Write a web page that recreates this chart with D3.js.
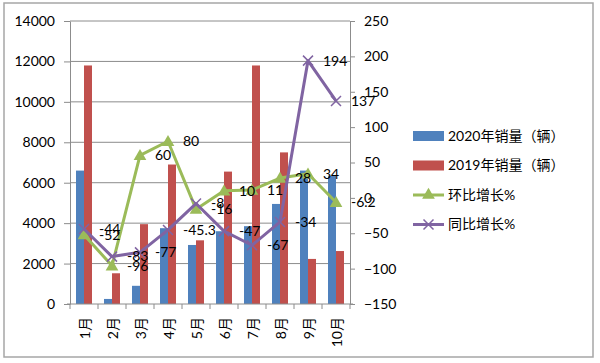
<!DOCTYPE html>
<html>
<head>
<meta charset="utf-8">
<script src="https://cdn.jsdelivr.net/npm/d3@7"></script>
<style>
  body { margin: 0; background: #fff; }
  svg { display: block; font-family: Lato, "Noto Sans CJK SC", sans-serif; }
</style>
</head>
<body>
<svg id="chart" width="600" height="363"></svg>
<script>
// chart data
var months = ["1月", "2月", "3月", "4月", "5月", "6月", "7月", "8月", "9月", "10月"]
var sales2020 = [6600, 250, 900, 3750, 2920, 3600, 3850, 4950, 6600, 6350]
var sales2019 = [11800, 1520, 3950, 6900, 3150, 6550, 11800, 7500, 2230, 2620]
var momGrowth = [-52, -96, 60, 80, -16, 10, 11, 28, 34, -6.2]
var yoyGrowth = [-44, -83, -77, -45.3, -8, -47, -67, -34, 194, 137]
var leftTicks = [0, 2000, 4000, 6000, 8000, 10000, 12000, 14000]
var rightTicks = [-150, -100, -50, 0, 50, 100, 150, 200, 250]
var seriesNames = ["2020年销量（辆）", "2019年销量（辆）", "环比增长%", "同比增长%"]

const colors = {
    blue: "#4f81bd",
    red: "#c0504d",
    green: "#9bbb59",
    purple: "#8064a2",
    grid: "#8c8c8c"
}

const plot = { left: 70, right: 350, top: 21, bottom: 304 }

var svg = d3.select("#chart")

// outer frame
svg.append("rect")
    .attr("x", 4).attr("y", 3)
    .attr("width", 589).attr("height", 354)
    .attr("fill", "none")
    .attr("stroke", "#a6a6a6")
    .attr("stroke-width", 1.5)

var xScale = d3.scaleBand().domain(months).range([plot.left, plot.right]).padding(0)
var xInner = d3.scaleBand().domain(["2020", "2019"]).range([0, xScale.bandwidth()]).paddingInner(0).paddingOuter(0.75)
var yLeft = d3.scaleLinear().domain([0, 14000]).range([plot.bottom, plot.top])
var yRight = d3.scaleLinear().domain([-150, 250]).range([plot.bottom, plot.top])

// gridlines
svg.append("g")
    .selectAll("line")
    .data(leftTicks.slice(1))
    .join("line")
        .attr("x1", plot.left).attr("x2", plot.right)
        .attr("y1", d => yLeft(d)).attr("y2", d => yLeft(d))
        .attr("stroke", colors.grid)
        .attr("stroke-width", 1)

// left axis
var left_axis = svg.append("g")
    .attr("transform", "translate(" + plot.left + ",0)")
    .call(d3.axisLeft(yLeft).tickValues(leftTicks).tickFormat(d3.format("d")).tickSize(6).tickPadding(9).tickSizeOuter(0))
left_axis.selectAll("text").attr("font-size", 14).attr("fill", "#000").attr("font-family", "Lato")
left_axis.selectAll("line, path").attr("stroke", colors.grid)

// right axis
var right_axis = svg.append("g")
    .attr("transform", "translate(" + plot.right + ",0)")
    .call(d3.axisRight(yRight).tickValues(rightTicks).tickFormat(d3.format("d")).tickSize(5).tickPadding(9).tickSizeOuter(0))
right_axis.selectAll("text").attr("font-size", 14).attr("fill", "#000").attr("font-family", "Lato")
right_axis.selectAll("line, path").attr("stroke", colors.grid)

// bars
var barData = months.map((m, i) => ({ month: m, v2020: sales2020[i], v2019: sales2019[i] }))
var bars = svg.append("g")
bars.selectAll(".bar2020")
    .data(barData)
    .join("rect")
        .attr("class", "bar2020")
        .attr("x", d => xScale(d.month) + xInner("2020"))
        .attr("width", xInner.bandwidth())
        .attr("y", d => yLeft(d.v2020))
        .attr("height", d => yLeft(0) - yLeft(d.v2020))
        .attr("fill", colors.blue)
bars.selectAll(".bar2019")
    .data(barData)
    .join("rect")
        .attr("class", "bar2019")
        .attr("x", d => xScale(d.month) + xInner("2019"))
        .attr("width", xInner.bandwidth())
        .attr("y", d => yLeft(d.v2019))
        .attr("height", d => yLeft(0) - yLeft(d.v2019))
        .attr("fill", colors.red)

// x axis with category ticks at boundaries
svg.append("line")
    .attr("x1", plot.left - 3).attr("x2", plot.right + 3)
    .attr("y1", plot.bottom).attr("y2", plot.bottom)
    .attr("stroke", colors.grid)
svg.append("g")
    .selectAll("line")
    .data(months.concat(["end"]))
    .join("line")
        .attr("x1", (d, i) => plot.left + i * xScale.step())
        .attr("x2", (d, i) => plot.left + i * xScale.step())
        .attr("y1", plot.bottom).attr("y2", plot.bottom + 5)
        .attr("stroke", colors.grid)
svg.append("g")
    .selectAll("text")
    .data(months)
    .join("text")
        .attr("transform", d => "translate(" + (xScale(d) + xScale.bandwidth() / 2 + 1) + "," + (plot.bottom + 13) + ") rotate(-90)")
        .attr("text-anchor", "end")
        .attr("dy", "0.35em")
        .attr("font-size", 14)
        .text(d => d)

// lines
var lineX = d => xScale(d.month) + xScale.bandwidth() / 2
var line = d3.line().x(lineX).y(d => yRight(d.value))
var momData = months.map((m, i) => ({ month: m, value: momGrowth[i] }))
var yoyData = months.map((m, i) => ({ month: m, value: yoyGrowth[i] }))

var triangle = d3.symbol().type(d3.symbolTriangle).size(70)

function drawCross(g, x, y, r, color) {
    g.append("path")
        .attr("d", "M" + (x - r) + "," + (y - r) + "L" + (x + r) + "," + (y + r) + "M" + (x - r) + "," + (y + r) + "L" + (x + r) + "," + (y - r))
        .attr("stroke", color)
        .attr("stroke-width", 1.5)
        .attr("fill", "none")
}

svg.append("path")
    .datum(momData)
    .attr("d", line)
    .attr("fill", "none")
    .attr("stroke", colors.green)
    .attr("stroke-width", 3)
    .attr("stroke-linejoin", "round")
svg.append("g")
    .selectAll("path")
    .data(momData)
    .join("path")
        .attr("d", triangle)
        .attr("transform", d => "translate(" + lineX(d) + "," + (yRight(d.value) + 1) + ")")
        .attr("fill", colors.green)

svg.append("path")
    .datum(yoyData)
    .attr("d", line)
    .attr("fill", "none")
    .attr("stroke", colors.purple)
    .attr("stroke-width", 3)
    .attr("stroke-linejoin", "round")
var crosses = svg.append("g")
for (d of yoyData) {
    drawCross(crosses, lineX(d), yRight(d.value), 5, colors.purple)
}

// data labels
var labels = svg.append("g").attr("font-size", 14).attr("fill", "#000")
for (data of [momData, yoyData]) {
    labels.selectAll(null)
        .data(data)
        .join("text")
            .attr("x", d => lineX(d) + 15)
            .attr("y", d => yRight(d.value))
            .attr("dy", "0.35em")
            .text(d => d.value)
}

// legend
var legend = svg.append("g").attr("transform", "translate(413,136)")
seriesNames.forEach((name, i) => {
    var row = legend.append("g").attr("transform", "translate(0," + (i * 29.5) + ")")
    if (i < 2) {
        row.append("rect")
            .attr("x", 0).attr("y", -5)
            .attr("width", 31).attr("height", 10)
            .attr("fill", i == 0 ? colors.blue : colors.red)
    } else {
        var c = i == 2 ? colors.green : colors.purple
        row.append("line")
            .attr("x1", 0).attr("x2", 31)
            .attr("stroke", c).attr("stroke-width", 3)
        if (i == 2) {
            row.append("path").attr("d", triangle).attr("transform", "translate(15.5,0)").attr("fill", c)
        } else {
            drawCross(row, 15.5, 0, 5, c)
        }
    }
    row.append("text")
        .attr("x", 35).attr("dy", "0.35em")
        .attr("font-size", 14)
        .text(name)
})
</script>
</body>
</html>
